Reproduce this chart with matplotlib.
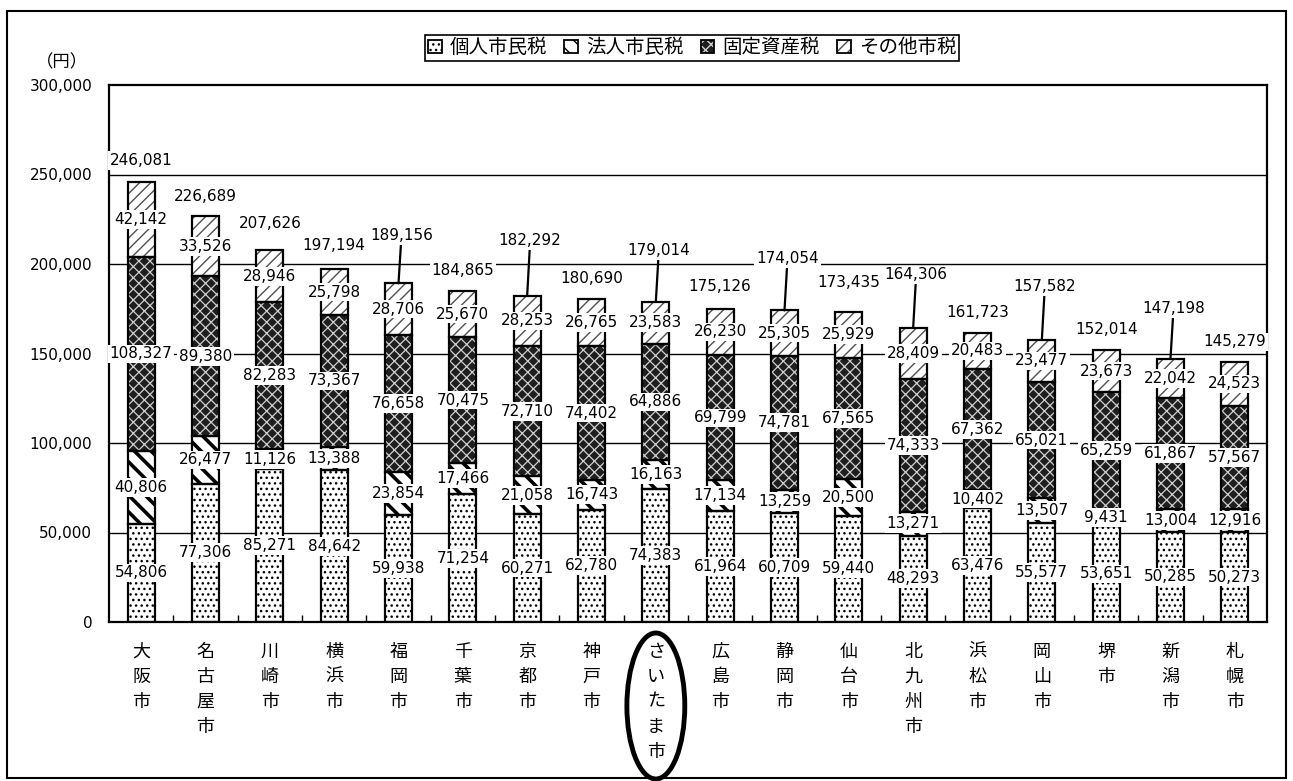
import numpy as np
import matplotlib
matplotlib.use('Agg')
import matplotlib.pyplot as plt
import matplotlib.patches as mpatches
import matplotlib.transforms as mtransforms
from matplotlib.legend_handler import HandlerTuple
from matplotlib.ticker import FuncFormatter

plt.rcParams['font.family'] = ['DejaVu Sans', 'Noto Sans CJK JP']

cities = ['大阪市', '名古屋市', '川崎市', '横浜市', '福岡市', '千葉市', '京都市', '神戸市', 'さいたま市',
          '広島市', '静岡市', '仙台市', '北九州市', '浜松市', '岡山市', '堺市', '新潟市', '札幌市']
series_names = ['個人市民税', '法人市民税', '固定資産税', 'その他市税']

kojin = [54806, 77306, 85271, 84642, 59938, 71254, 60271, 62780, 74383,
         61964, 60709, 59440, 48293, 63476, 55577, 53651, 50285, 50273]
hojin = [40806, 26477, 11126, 13388, 23854, 17466, 21058, 16743, 16163,
         17134, 13259, 20500, 13271, 10402, 13507, 9431, 13004, 12916]
kotei = [108327, 89380, 82283, 73367, 76658, 70475, 72710, 74402, 64886,
         69799, 74781, 67565, 74333, 67362, 65021, 65259, 61867, 57567]
sonota = [42142, 33526, 28946, 25798, 28706, 25670, 28253, 26765, 23583,
          26230, 25305, 25929, 28409, 20483, 23477, 23673, 22042, 24523]
totals = [246081, 226689, 207626, 197194, 189156, 184865, 182292, 180690, 179014,
          175126, 174054, 173435, 164306, 161723, 157582, 152014, 147198, 145279]

# how far (px) the total label sits above the bar, and whether it gets a leader line
total_lift = [21, 20, 27, 24, 48, 21, 55, 20, 51, 22, 52, 29, 53, 20, 53, 20, 50, 20]
leader = [False, False, False, False, True, False, True, False, True,
          False, True, False, True, False, True, False, True, False]

# fill / hatch for each tax
styles = [
    dict(fc='white', hatch='...', hc='black', hlw=1.0),
    dict(fc='white', hatch='\\\\', hc='black', hlw=2.6),
    dict(fc='#1e1e1e', hatch='xxx', hc='#d0d0d0', hlw=0.9),
    dict(fc='white', hatch='///', hc='#505050', hlw=1.0),
]


def set_hatch_lw(patch, lw):
    if hasattr(patch, 'set_hatch_linewidth'):
        patch.set_hatch_linewidth(lw)


fig = plt.figure(figsize=(12.93, 7.81), dpi=100)
ax = fig.add_axes([109 / 1293, 159 / 781, 1158 / 1293, 537 / 781])

x = np.arange(len(cities))
width = 0.42
bottom = np.zeros(len(cities))
lbl_box = dict(boxstyle='square,pad=0.12', fc='white', ec='none')
handles = []

for vals, st in zip([kojin, hojin, kotei, sonota], styles):
    vals = np.array(vals, dtype=float)
    fill = ax.bar(x, vals, width, bottom=bottom, color=st['fc'], edgecolor=st['hc'],
                  hatch=st['hatch'], linewidth=0, zorder=2)
    for p in fill:
        set_hatch_lw(p, st['hlw'])
    ax.bar(x, vals, width, bottom=bottom, fill=False, edgecolor='black',
           linewidth=1.6, zorder=3)
    # legend key: hatched square with black border
    key_fill = mpatches.Patch(facecolor=st['fc'], edgecolor=st['hc'], hatch=st['hatch'], linewidth=0)
    set_hatch_lw(key_fill, st['hlw'])
    key_edge = mpatches.Patch(fill=False, edgecolor='black', linewidth=1.3)
    handles.append((key_fill, key_edge))
    for i, v in enumerate(vals):
        ax.text(i, bottom[i] + v / 2, f'{int(v):,}', ha='center', va='center',
                fontsize=11, bbox=lbl_box, zorder=5)
    bottom += vals

for i, t in enumerate(totals):
    kw = {}
    dx = 0
    if leader[i]:
        dx = 3
        kw['arrowprops'] = dict(arrowstyle='-', color='black', lw=1.6, shrinkA=0, shrinkB=0)
    ax.annotate(f'{t:,}', xy=(i, bottom[i]), xytext=(dx, total_lift[i]),
                textcoords='offset pixels', ha='center', va='center', fontsize=11,
                bbox=lbl_box, zorder=6, annotation_clip=False, **kw)

# horizontal grid
for v in range(50000, 300000, 50000):
    ax.axhline(v, color='black', lw=1.0, zorder=1)

ax.set_xlim(-0.5, len(cities) - 0.5)
ax.set_ylim(0, 300000)
ax.set_yticks(range(0, 300001, 50000))
ax.yaxis.set_major_formatter(FuncFormatter(lambda v, p: f'{int(v):,}'))
ax.tick_params(axis='y', length=0, pad=12, labelsize=11)

ax.set_xticks(x)
ax.set_xticklabels(['\n'.join(c) for c in cities], fontsize=13, linespacing=1.5,
                   family=['Noto Sans CJK JP'])
ax.set_xticks(np.arange(0.5, len(cities) - 0.5), minor=True)
ax.tick_params(axis='x', which='major', length=0, pad=15)
ax.tick_params(axis='x', which='minor', direction='in', length=5, width=1)

for s in ax.spines.values():
    s.set_linewidth(1.6)
    s.set_color('black')

leg = ax.legend(handles, series_names, handler_map={tuple: HandlerTuple(ndivide=1)},
                loc='center', bbox_to_anchor=(0.5035, 1.069), ncol=4,
                prop={'family': ['Noto Sans CJK JP'], 'size': 14},
                handlelength=0.7, handleheight=0.7, handletextpad=0.4, columnspacing=0.9,
                borderpad=0.15, borderaxespad=0, fancybox=False, framealpha=1, edgecolor='black')
leg.get_frame().set_linewidth(1.2)

fig.text(62 / 1293, 1 - 62 / 781, '（円）', ha='center', va='center', fontsize=12.5,
         family=['Noto Sans CJK JP'])

# ring around the highlighted city name
hi = cities.index('さいたま市')
trans = mtransforms.blended_transform_factory(ax.transData, fig.transFigure)
ax.add_patch(mpatches.Ellipse((hi, 1 - 706 / 781), 0.9, 146 / 781, transform=trans,
                              fill=False, lw=3.5, ec='black', clip_on=False))

# outer frame
fig.add_artist(mpatches.Rectangle((7 / 1293, 3 / 781), 1279 / 1293, 767 / 781,
                                  transform=fig.transFigure, fill=False, lw=1.5, ec='black'))

fig.savefig('out.png', dpi=100)
